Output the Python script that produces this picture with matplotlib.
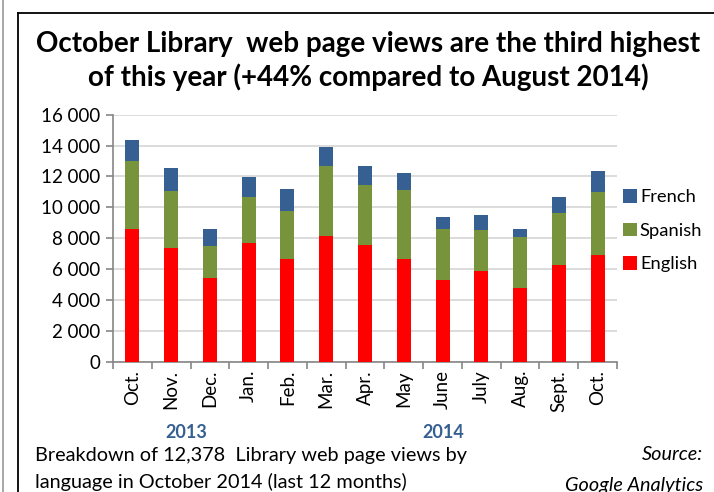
import numpy as np
import matplotlib.pyplot as plt
from matplotlib.lines import Line2D

plt.rcParams['font.family'] = ['Lato', 'DejaVu Sans']

months = ["Oct.", "Nov.", "Dec.", "Jan.", "Feb.", "Mar.", "Apr.", "May",
          "June", "July", "Aug.", "Sept.", "Oct."]
english = [8610, 7360, 5440, 7710, 6670, 8160, 7580, 6670, 5310, 5890, 4750, 6240, 6910]
spanish = [4390, 3720, 2030, 2930, 3070, 4510, 3840, 4430, 3280, 2620, 3310, 3370, 4080]
french = [1360, 1460, 1120, 1340, 1450, 1230, 1250, 1120, 800, 990, 550, 1030, 1388]

W, H = 714, 492
fig = plt.figure(figsize=(W / 100, H / 100), dpi=100)
ax = fig.add_axes([113 / W, 1 - 361.7 / H, (617 - 113) / W, (361.7 - 114.7) / H])

x = np.arange(len(months))
bw = 0.36
c_en, c_sp, c_fr = "#FF0000", "#77933C", "#376092"
eng = np.array(english)
spa = np.array(spanish)
fre = np.array(french)
ax.bar(x, eng, bw, color=c_en, label="English", zorder=3)
ax.bar(x, spa, bw, bottom=eng, color=c_sp, label="Spanish", zorder=3)
ax.bar(x, fre, bw, bottom=eng + spa, color=c_fr, label="French", zorder=3)

ax.set_xlim(-0.5, len(months) - 0.5)
ax.set_ylim(0, 16000)
ax.set_yticks(range(0, 16001, 2000))
ax.set_yticklabels([f"{v:,}".replace(",", " ") for v in range(0, 16001, 2000)], fontsize=13.5)
ax.yaxis.grid(True, color="#D9D9D9", lw=1.3, zorder=0)

ax.set_xticks(x)
ax.set_xticklabels(months, rotation=90, fontsize=13.5)
ax.tick_params(axis="x", length=0, pad=6)
ax.set_xticks(np.arange(-0.5, len(months)), minor=True)
ax.tick_params(axis="x", which="minor", length=5, color="#868686", width=1.2)
ax.tick_params(axis="y", length=5, color="#868686", width=1.2, pad=4)

for s in ["top", "right"]:
    ax.spines[s].set_visible(False)
for s in ["left", "bottom"]:
    ax.spines[s].set_color("#868686")
    ax.spines[s].set_linewidth(1.2)

h, l = ax.get_legend_handles_labels()
ax.legend(h[::-1], l[::-1], loc="center left", bbox_to_anchor=(0.98, 0.53),
          frameon=False, fontsize=13.2, handlelength=0.75, handleheight=0.75,
          handletextpad=0.15, labelspacing=0.95)

# title
fig.text(368 / W, 1 - 44 / H, "October Library  web page views are the third highest",
         ha="center", va="center", fontsize=20, fontweight="bold")
fig.text(368 / W, 1 - 77 / H, "of this year (+44% compared to August 2014)",
         ha="center", va="center", fontsize=20, fontweight="bold")

# year labels
fig.text(186 / W, 1 - 432 / H, "2013", ha="center", va="center",
         fontsize=13, fontweight="bold", color="#376092")
fig.text(443 / W, 1 - 432 / H, "2014", ha="center", va="center",
         fontsize=13, fontweight="bold", color="#376092")

# footer
fig.text(35 / W, 1 - 455 / H, "Breakdown of 12,378  Library web page views by",
         ha="left", va="center", fontsize=14.3)
fig.text(35 / W, 1 - 482 / H, "language in October 2014 (last 12 months)",
         ha="left", va="center", fontsize=14.3)
fig.text(703 / W, 1 - 455 / H, "Source:", ha="right", va="center",
         fontsize=14.3, style="italic")
fig.text(703 / W, 1 - 485 / H, "Google Analytics", ha="right", va="center",
         fontsize=14.3, style="italic")

# frame
fig.add_artist(Line2D([18 / W, 18 / W], [0, 1 - 13 / H], color="black", lw=1.3,
                      transform=fig.transFigure))
fig.add_artist(Line2D([18 / W, 1], [1 - 13 / H, 1 - 13 / H], color="black", lw=1.3,
                      transform=fig.transFigure))
fig.add_artist(Line2D([3 / W, 3 / W], [0, 1], color="#A0A0A0", lw=1.3,
                      transform=fig.transFigure))

fig.savefig("out.png", dpi=100)
